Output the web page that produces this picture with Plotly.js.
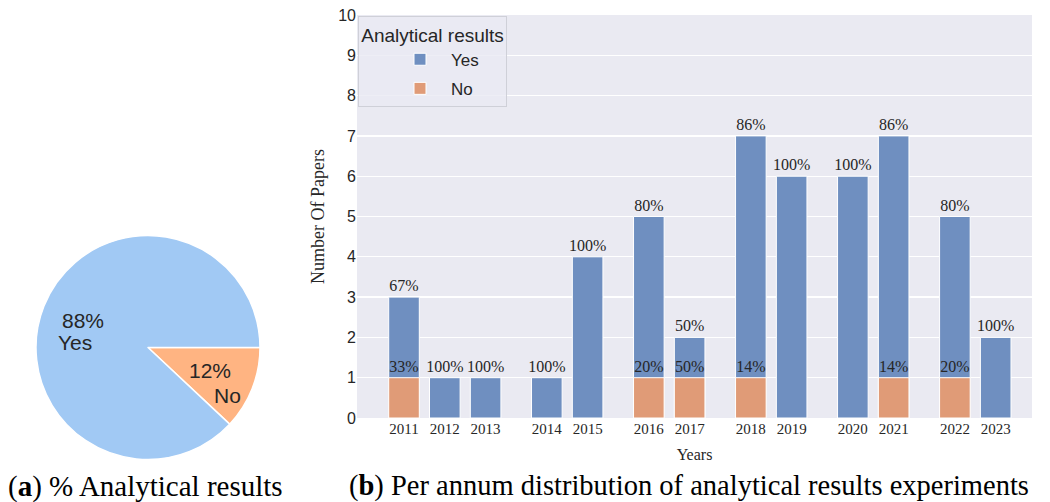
<!DOCTYPE html>
<html><head><meta charset="utf-8">
<script src="https://cdn.plot.ly/plotly-3.0.1.min.js"></script>
<style>html,body{margin:0;padding:0;background:#fff}#chart{width:1050px;height:502px}</style>
</head><body><div id="chart"></div>
<script>
// ---- data ----
const years = ['2011','2012','2013','2014','2015','2016','2017','2018','2019','2020','2021','2022','2023'];
const totalPapers = [3,1,1,1,4,5,2,7,6,6,7,5,2];   // blue bar heights (all papers of that year)
const noPapers    = [1,0,0,0,0,1,1,1,0,0,1,1,0];   // orange bar heights
const seriesNames = ['Yes','No'];
const groupStarts = ['2014','2016','2018','2020','2022']; // a wider gap precedes these years
const legendTitle = 'Analytical results';
const captionA = '(<b>a</b>) % Analytical results';
const captionB = '(<b>b</b>) Per annum distribution of analytical results experiments';

// ---- derived ----
const xpos = [];
let p = 0;
years.forEach((y,i)=>{ if(i>0){ p += 1 + (groupStarts.includes(y)?0.5:0); } xpos.push(p); });
const yesPct = totalPapers.map((t,i)=>Math.round((t-noPapers[i])/t*100)+'%');
const noPct  = totalPapers.map((t,i)=>noPapers[i]>0 ? Math.round(noPapers[i]/t*100)+'%' : '');
const noY    = noPapers.map(n=>n>0?n:null);
const yesSum = totalPapers.reduce((a,t,i)=>a+t-noPapers[i],0);
const noSum  = noPapers.reduce((a,b)=>a+b,0);
const piePct = [yesSum, noSum].map(v=>Math.round(v/(yesSum+noSum)*100)+'%');

const W=1050,H=502;
const px=x=>x/W, py=y=>1-y/H;
const dark='#262626';
const serif='Liberation Serif, Times New Roman, serif';
const sans='Liberation Sans, Arial, sans-serif';
const blue='#6f8fc0', orange='#e09b77';
const pieBlue='#a1c9f4', pieOrange='#ffb482';

const traces = [
  {type:'pie', values:[noSum, yesSum], labels:[seriesNames[1], seriesNames[0]], sort:false,
   direction:'clockwise', rotation:90,
   marker:{colors:[pieOrange, pieBlue], line:{color:'#ffffff', width:1.5}},
   textinfo:'none', hoverinfo:'skip', showlegend:false,
   domain:{x:[px(36),px(260)], y:[py(459.5),py(235.5)]}},
  {type:'bar', name:seriesNames[0], legendgroup:'yes', x:xpos, y:totalPapers, width:0.75,
   marker:{color:blue, line:{color:'#ffffff', width:1}},
   text:yesPct, textposition:'outside', constraintext:'none', cliponaxis:false,
   textfont:{family:serif, size:16, color:dark}, hoverinfo:'skip'},
  {type:'bar', name:seriesNames[1], legendgroup:'no', x:xpos, y:noY, width:0.75,
   marker:{color:orange, line:{color:'#ffffff', width:1}},
   text:noPct, textposition:'outside', constraintext:'none', cliponaxis:false,
   textfont:{family:serif, size:16, color:dark}, hoverinfo:'skip'}
];

function ann(text,x,y,font){return {text, x:px(x), y:py(y), xref:'paper', yref:'paper', xanchor:'center', yanchor:'middle', showarrow:false, font};}
const pieFont={family:sans,size:21,color:dark};

const layout = {
  width:W, height:H, margin:{l:0,r:0,t:0,b:0},
  paper_bgcolor:'#ffffff', plot_bgcolor:'#eaeaf2',
  barmode:'overlay', hovermode:false,
  xaxis:{domain:[px(357),px(1032)], range:[-1.152,15.39], tickvals:xpos, ticktext:years,
         showgrid:false, zeroline:false, ticks:'', showline:false,
         tickfont:{family:serif,size:15,color:dark},
         title:{text:'Years', font:{family:serif,size:16,color:dark}, standoff:12}},
  yaxis:{domain:[py(418),py(15)], range:[0,10], dtick:1, tick0:0,
         showgrid:true, gridcolor:'#ffffff', gridwidth:1.3, zeroline:false, ticks:'', showline:false,
         tickfont:{family:sans,size:16,color:dark},
         title:{text:'Number Of Papers', font:{family:serif,size:18,color:dark}, standoff:8}},
  legend:{x:px(358), y:py(16), xanchor:'left', yanchor:'top',
          bgcolor:'rgba(234,234,242,0.8)', bordercolor:'#cfd0d8', borderwidth:1,
          traceorder:'grouped', tracegroupgap:4, indentation:30, itemwidth:52,
          font:{family:sans,size:17,color:dark},
          title:{text:legendTitle, font:{family:sans,size:19,color:dark}, side:'top center'}},
  annotations:[
    ann(piePct[0],83,320.5,pieFont),
    ann(seriesNames[0],75,342,pieFont),
    ann(piePct[1],210,370,pieFont),
    ann(seriesNames[1],227,395,pieFont),
    ann(captionA,145,486,{family:serif,size:29,color:'#000'}),
    ann(captionB,689,486,{family:serif,size:28.5,color:'#000'})
  ]
};
Plotly.newPlot('chart', traces, layout, {displayModeBar:false, staticPlot:true});
</script></body></html>
